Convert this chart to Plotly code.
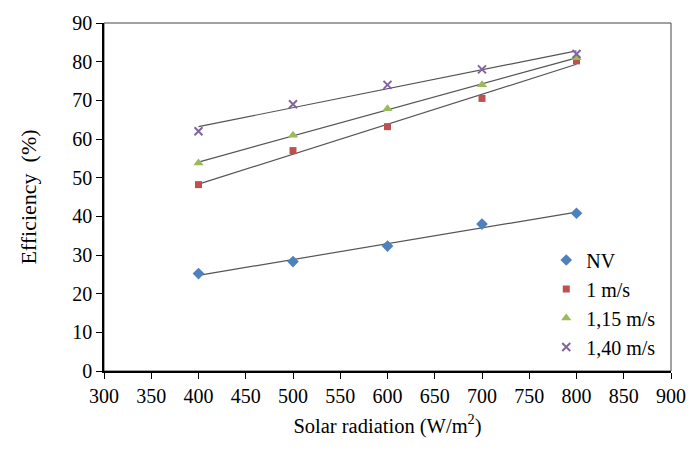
import numpy as np
import plotly.graph_objects as go

radiation = [400, 500, 600, 700, 800]
nv = [25.2, 28.3, 32.3, 38.0, 40.8]
v1 = [48.2, 57.0, 63.2, 70.5, 80.2]
v115 = [53.8, 61.0, 67.8, 74.0, 81.0]
v140 = [62.0, 69.0, 74.0, 78.0, 82.0]

series = [
    ("NV", nv, "diamond", "#4F81BD", 9),
    ("1 m/s", v1, "square", "#C0504D", 7),
    ("1,15 m/s", v115, "triangle-up", "#9BBB59", 9),
    ("1,40 m/s", v140, "x-thin", "#8064A2", 8),
]

fig = go.Figure()
xs = np.array(radiation, dtype=float)
for name, ys, sym, col, sz in series:
    a, b = np.polyfit(xs, np.array(ys), 1)
    fig.add_trace(go.Scatter(x=[xs[0], xs[-1]], y=[a * xs[0] + b, a * xs[-1] + b],
                             mode="lines", line=dict(color="#555555", width=1.2),
                             showlegend=False, hoverinfo="skip"))
for i, (name, ys, sym, col, sz) in enumerate(series):
    mk = dict(symbol=sym, color=col, size=sz)
    if sym == "x-thin":
        mk["line"] = dict(color=col, width=2)
    fig.add_trace(go.Scatter(x=radiation, y=ys, mode="markers", name=name, marker=mk,
                             legendgroup=str(i)))

font = "Times New Roman, Liberation Serif, DejaVu Serif, serif"
fig.update_layout(
    width=698, height=468,
    margin=dict(l=104, r=18, t=15, b=97),
    paper_bgcolor="white", plot_bgcolor="white",
    font=dict(family=font, size=16, color="black"),
    legend=dict(x=0.78, y=0.375, xanchor="left", yanchor="top",
                bgcolor="rgba(0,0,0,0)", font=dict(size=20, family=font), tracegroupgap=0,
                itemwidth=30),
    xaxis=dict(range=[300, 900], dtick=50, tick0=300, ticks="outside", ticklen=6,
               tickcolor="black", showline=True, linecolor="black", linewidth=1.5,
               mirror=False, showgrid=False, zeroline=False,
               tickfont=dict(size=20, family=font),
               title=dict(text="Solar radiation (W/m<sup>2</sup>)", font=dict(size=20.5, family=font), standoff=13)),
    yaxis=dict(range=[0, 90], dtick=10, ticks="outside", ticklen=6, tickcolor="black",
               showline=True, linecolor="black", linewidth=1.5, showgrid=False, zeroline=False,
               tickfont=dict(size=20, family=font),
               title=dict(text="Efficiency  (%)", font=dict(size=22, family=font), standoff=30)),
)
fig.add_shape(type="rect", xref="paper", yref="paper", x0=0, y0=0, x1=1, y1=1,
              line=dict(color="#444444", width=1), layer="below")
fig.write_html("out.html")
